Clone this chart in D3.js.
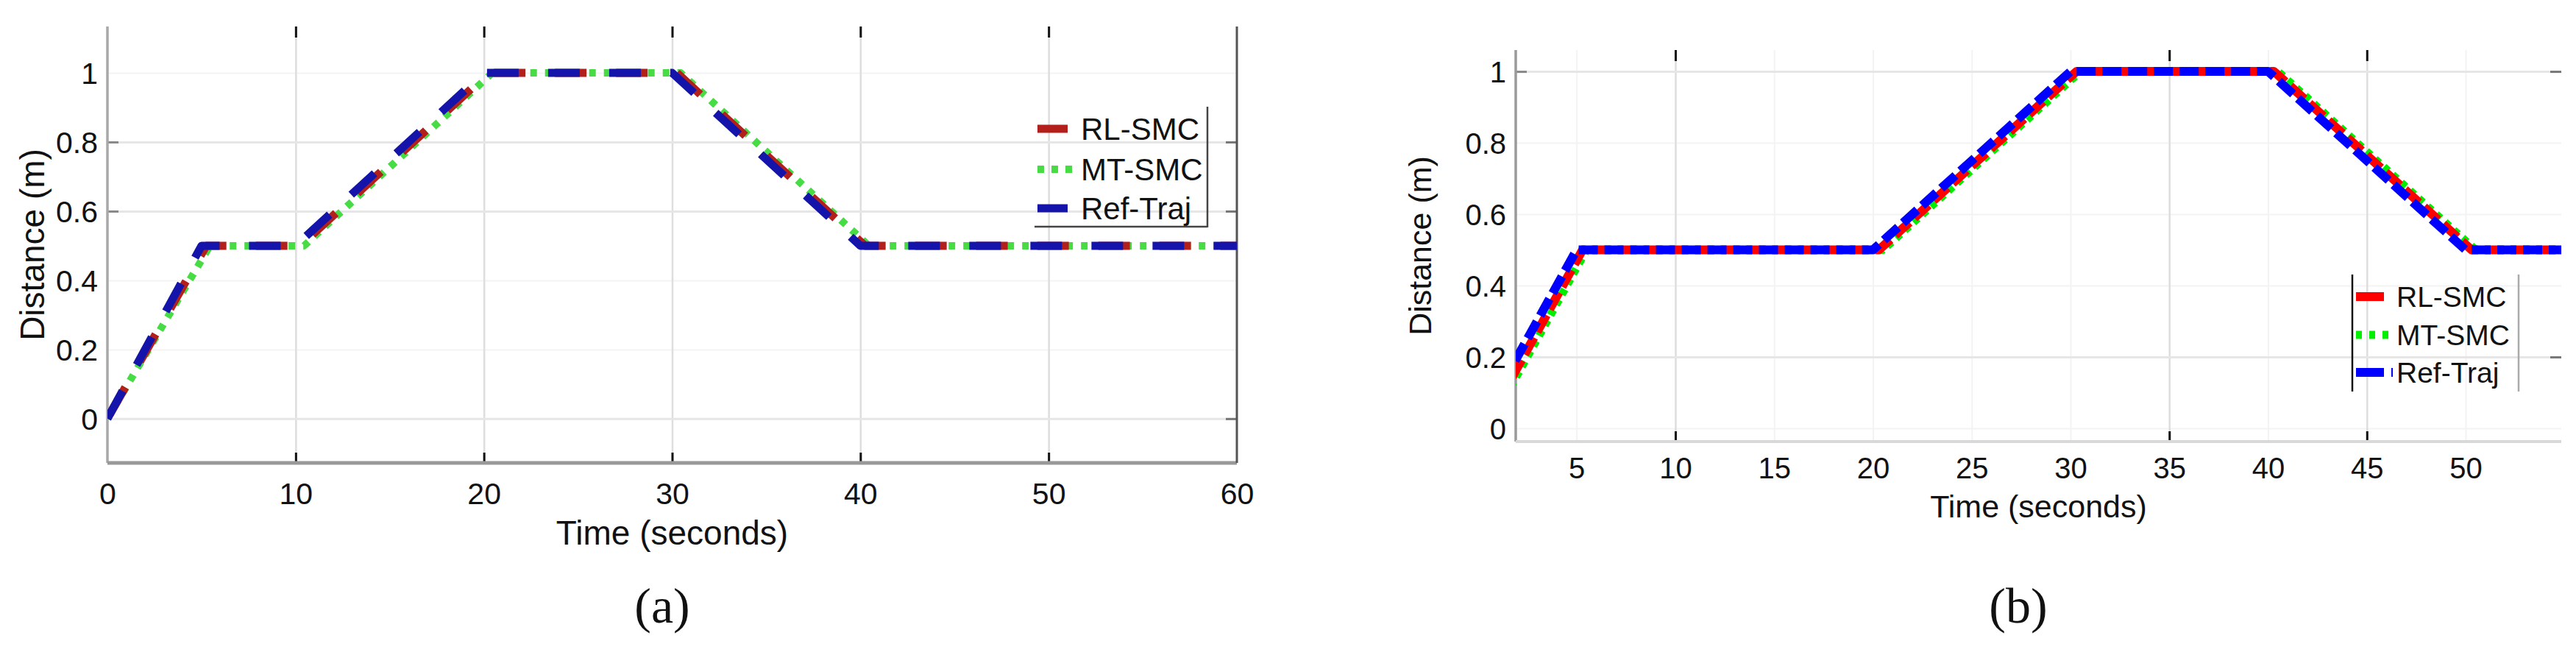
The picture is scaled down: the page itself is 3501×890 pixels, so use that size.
<!DOCTYPE html>
<html>
<head>
<meta charset="utf-8">
<script src="https://cdn.jsdelivr.net/npm/d3@7"></script>
<style>
  body { margin: 0; background: #fff; }
  svg { display: block; }
  .tick-label { font-family: "Liberation Sans", Arial, sans-serif; fill: #111; }
  .axis-title { font-family: "Liberation Sans", Arial, sans-serif; fill: #111; }
  .panel-tag { font-family: "Liberation Serif", "Times New Roman", serif; fill: #111; }
</style>
</head>
<body>
<div id="chart"></div>
<script>
// ---- data: [time (s), distance (m)] breakpoints ----
const refTrajA = [[0, 0], [5, 0.5], [10, 0.5], [20, 1], [30, 1], [40, 0.5], [60, 0.5]];
const rlSmcA   = [[0, 0], [5.25, 0.5], [10.25, 0.5], [20.25, 1], [30.25, 1], [40.25, 0.5], [60, 0.5]];
const mtSmcA   = [[0, 0], [5.45, 0.5], [10.45, 0.5], [20.45, 1], [30.45, 1], [40.45, 0.5], [60, 0.5]];

const refTrajB = [[0, 0], [5, 0.5], [20, 0.5], [30, 1], [40, 1], [50, 0.5], [60, 0.5]];
const rlSmcB   = [[0.3, 0], [5.3, 0.5], [20.3, 0.5], [30.3, 1], [40.3, 1], [50.3, 0.5], [60, 0.5]];
const mtSmcB   = [[0.5, 0], [5.5, 0.5], [20.5, 0.5], [30.5, 1], [40.5, 1], [50.5, 0.5], [60, 0.5]];

const seriesNames = ["RL-SMC", "MT-SMC", "Ref-Traj"];

const xTicksA = [0, 10, 20, 30, 40, 50, 60];
const xGridA = [10, 20, 30, 40, 50];
const yTicksA = [0, 0.2, 0.4, 0.6, 0.8, 1];
const yGridStrongA = [0, 0.6, 0.8];

const xTicksB = [5, 10, 15, 20, 25, 30, 35, 40, 45, 50];
const xGridStrongB = [10, 35, 45];
const yTicksB = [0, 0.2, 0.4, 0.6, 0.8, 1];
const yGridStrongB = [0.2, 1];

const svg = d3.select("#chart").append("svg")
  .attr("width", 3501)
  .attr("height", 890);

function drawPanel(cfg) {
  const { id, x, y, xTicks, yTicks, xGridStrong, yGridStrong, series, fonts, tag } = cfg;
  const [left, right] = x.range();
  const [bottom, top] = y.range();
  const g = svg.append("g").attr("class", "panel-" + id);

  // faint full grid, then the lines that show clearly in the picture
  g.append("g")
    .attr("transform", `translate(0,${bottom})`)
    .call(d3.axisBottom(x).tickValues(xTicks).tickSize(-(bottom - top)).tickFormat(""))
    .call((s) => s.select(".domain").remove())
    .selectAll("line").attr("stroke", "#f3f3f3").attr("stroke-width", 2);
  g.append("g")
    .attr("transform", `translate(${left},0)`)
    .call(d3.axisLeft(y).tickValues(yTicks).tickSize(-(right - left)).tickFormat(""))
    .call((s) => s.select(".domain").remove())
    .selectAll("line").attr("stroke", "#f3f3f3").attr("stroke-width", 2);

  g.append("g")
    .attr("transform", `translate(0,${bottom})`)
    .call(d3.axisBottom(x).tickValues(xGridStrong).tickSize(-(bottom - top)).tickFormat(""))
    .call((s) => s.select(".domain").remove())
    .selectAll("line").attr("stroke", "#dedede").attr("stroke-width", 2.5);
  g.append("g")
    .attr("transform", `translate(${left},0)`)
    .call(d3.axisLeft(y).tickValues(yGridStrong).tickSize(-(right - left)).tickFormat(""))
    .call((s) => s.select(".domain").remove())
    .selectAll("line").attr("stroke", "#e6e6e6").attr("stroke-width", 3);

  // tick marks (inside)
  g.append("g").attr("transform", `translate(0,${top})`)
    .call(d3.axisBottom(x).tickValues(xGridStrong).tickSize(15).tickFormat(""))
    .call((s) => s.select(".domain").remove())
    .selectAll("line").attr("stroke", "#111").attr("stroke-width", 3);
  g.append("g").attr("transform", `translate(0,${bottom})`)
    .call(d3.axisTop(x).tickValues(xGridStrong).tickSize(14).tickFormat(""))
    .call((s) => s.select(".domain").remove())
    .selectAll("line").attr("stroke", "#111").attr("stroke-width", 3);
  g.append("g").attr("transform", `translate(${left},0)`)
    .call(d3.axisRight(y).tickValues(cfg.yTickLeft).tickSize(15).tickFormat(""))
    .call((s) => s.select(".domain").remove())
    .selectAll("line").attr("stroke", "#888").attr("stroke-width", 3);
  g.append("g").attr("transform", `translate(${right},0)`)
    .call(d3.axisLeft(y).tickValues(yGridStrong).tickSize(15).tickFormat(""))
    .call((s) => s.select(".domain").remove())
    .selectAll("line").attr("stroke", "#777").attr("stroke-width", 3);

  // axis frame
  g.append("line").attr("x1", left).attr("x2", left).attr("y1", top).attr("y2", bottom)
    .attr("stroke", cfg.leftColor).attr("stroke-width", 3.5);
  g.append("line").attr("x1", left).attr("x2", right).attr("y1", bottom).attr("y2", bottom)
    .attr("stroke", cfg.bottomColor).attr("stroke-width", cfg.bottomWidth);
  if (cfg.rightFrame) {
    g.append("line").attr("x1", right).attr("x2", right).attr("y1", top).attr("y2", bottom)
      .attr("stroke", cfg.rightFrame).attr("stroke-width", 3);
  }

  // data lines
  const clipId = "clip-" + id;
  g.append("clipPath").attr("id", clipId)
    .append("rect").attr("x", left).attr("y", top - 10)
    .attr("width", right - left).attr("height", bottom - top + 10);
  const line = d3.line().x((d) => x(d[0])).y((d) => y(d[1]));
  const lines = g.append("g").attr("clip-path", `url(#${clipId})`);
  // draw order: green under, then red, blue on top
  [1, 0, 2].forEach((i) => {
    const s = series[i];
    lines.append("path")
      .datum(s.values)
      .attr("fill", "none")
      .attr("stroke", s.color)
      .attr("stroke-width", s.width)
      .attr("stroke-dasharray", s.dash)
      .attr("stroke-dashoffset", s.offset || 0)
      .attr("stroke-linejoin", "round")
      .attr("d", line);
  });

  // tick labels
  const xl = g.append("g").attr("transform", `translate(0,${bottom})`)
    .call(d3.axisBottom(x).tickValues(xTicks).tickSize(0).tickFormat((d) => String(d)));
  xl.select(".domain").remove();
  xl.selectAll("text")
    .attr("class", "tick-label")
    .attr("y", cfg.xLabelBase - bottom).attr("dy", null)
    .style("font-size", fonts.tick + "px")
    .attr("fill", "#111");

  const yl = g.append("g").attr("transform", `translate(${left},0)`)
    .call(d3.axisLeft(y).tickValues(yTicks).tickSize(0).tickPadding(13).tickFormat((d) => String(d)));
  yl.select(".domain").remove();
  yl.selectAll("text")
    .attr("class", "tick-label")
    .attr("dy", "0.36em")
    .style("font-size", fonts.tick + "px")
    .attr("fill", "#111");

  // axis titles
  g.append("text").attr("class", "axis-title")
    .attr("x", (left + right) / 2).attr("y", cfg.xTitleBase)
    .attr("text-anchor", "middle")
    .style("font-size", fonts.title + "px")
    .text("Time (seconds)");
  g.append("text").attr("class", "axis-title")
    .attr("transform", `translate(${cfg.yTitleBase},${(top + bottom) / 2}) rotate(-90)`)
    .attr("text-anchor", "middle")
    .style("font-size", fonts.title + "px")
    .text("Distance (m)");

  // legend
  const lg = g.append("g");
  const L = cfg.legend;
  series.forEach((s, i) => {
    const yy = L.rows[i];
    lg.append("line")
      .attr("x1", L.x0).attr("x2", L.x0 + s.sampleLen)
      .attr("y1", yy).attr("y2", yy)
      .attr("stroke", s.color)
      .attr("stroke-width", s.width)
      .attr("stroke-dasharray", s.sampleDash || null);
    lg.append("text").attr("class", "tick-label")
      .attr("x", L.textX).attr("y", yy).attr("dy", "0.36em")
      .style("font-size", fonts.legend + "px")
      .text(seriesNames[i]);
  });
  L.borders.forEach((b) => {
    lg.append("line")
      .attr("x1", b[0]).attr("y1", b[1]).attr("x2", b[2]).attr("y2", b[3])
      .attr("stroke", b[4]).attr("stroke-width", 2.5);
  });

  // panel tag
  g.append("text").attr("class", "panel-tag")
    .attr("x", tag.x).attr("y", 846)
    .attr("text-anchor", "middle")
    .style("font-size", "68px")
    .text(tag.text);
}

drawPanel({
  id: "a",
  x: d3.scaleLinear().domain([0, 60]).range([146, 1681]),
  y: d3.scaleLinear().domain([-0.128, 1.134]).range([629, 36]),
  xTicks: xTicksA, yTicks: yTicksA,
  xGridStrong: xGridA, yGridStrong: yGridStrongA,
  yTickLeft: [0.6, 0.8],
  leftColor: "#a8a8a8", bottomColor: "#999", bottomWidth: 5, rightFrame: "#555",
  xLabelBase: 685, xTitleBase: 740, yTitleBase: 60,
  fonts: { tick: 41, title: 46, legend: 42 },
  series: [
    { values: rlSmcA, color: "#b3201c", width: 11, dash: "43,40", offset: -6, sampleLen: 41 },
    { values: mtSmcA, color: "#48dc44", width: 10, dash: "9,11", sampleLen: 57, sampleDash: "9,10" },
    { values: refTrajA, color: "#1414aa", width: 11, dash: "43,40", sampleLen: 41 }
  ],
  legend: {
    x0: 1410, textX: 1469, rows: [175, 230, 283],
    borders: [[1641, 145, 1641, 309, "#444"], [1406, 308, 1641, 308, "#444"]]
  },
  tag: { x: 900, text: "(a)" }
});

drawPanel({
  id: "b",
  x: d3.scaleLinear().domain([1.92, 54.84]).range([2060, 3481]),
  y: d3.scaleLinear().domain([-0.037, 1.06]).range([600, 68]),
  xTicks: xTicksB, yTicks: yTicksB,
  xGridStrong: xGridStrongB, yGridStrong: yGridStrongB,
  yTickLeft: [1],
  leftColor: "#9a9a9a", bottomColor: "#d8d8d8", bottomWidth: 4, rightFrame: null,
  xLabelBase: 650, xTitleBase: 703, yTitleBase: 1945,
  fonts: { tick: 40, title: 43, legend: 39 },
  series: [
    { values: rlSmcB, color: "#ff0000", width: 12, dash: "26,9", offset: -10, sampleLen: 38 },
    { values: mtSmcB, color: "#00ee00", width: 11, dash: "8,8", sampleLen: 48, sampleDash: "8,10" },
    { values: refTrajB, color: "#0000ff", width: 12, dash: "26,9", sampleLen: 50, sampleDash: "38,10" }
  ],
  legend: {
    x0: 3202, textX: 3257, rows: [403, 455, 506],
    borders: [[3197, 373, 3197, 532, "#111"], [3423, 373, 3423, 532, "#aaa"]]
  },
  tag: { x: 2743, text: "(b)" }
});
</script>
</body>
</html>
